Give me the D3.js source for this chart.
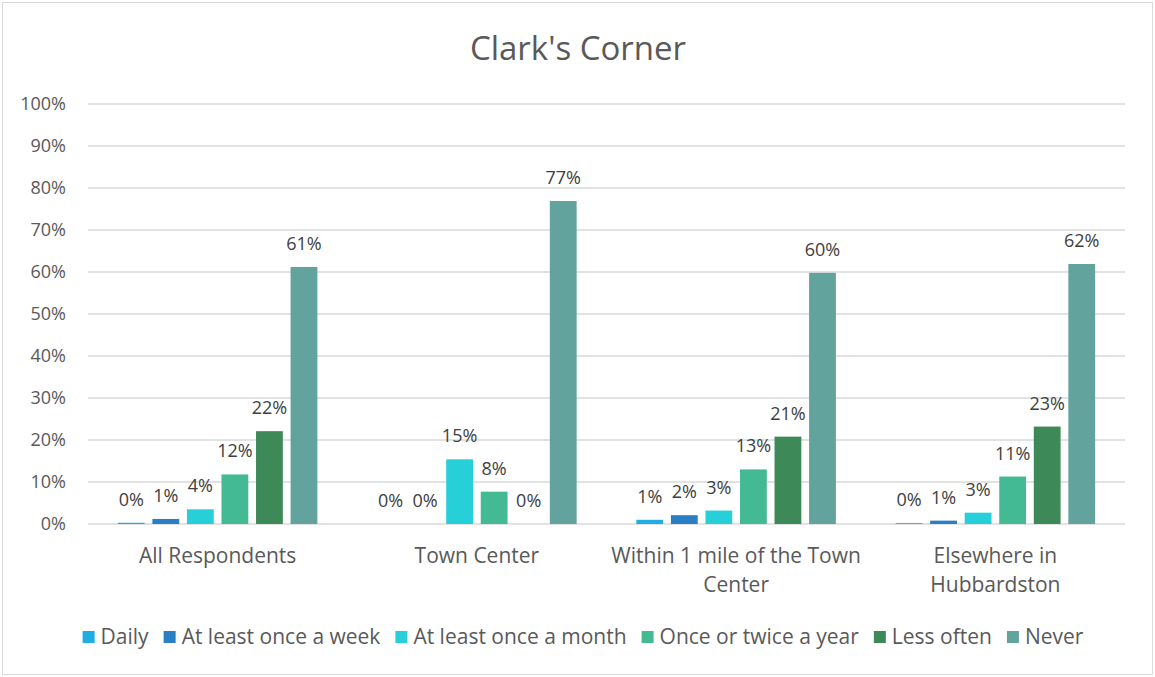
<!DOCTYPE html>
<html>
<head>
<meta charset="utf-8">
<script src="https://cdn.jsdelivr.net/npm/d3@7"></script>
<style>
  body { margin: 0; background: #fff; }
  text { font-family: "Open Sans", sans-serif; }
</style>
</head>
<body>
<div id="chart-area"></div>
<script>
// chart data
var categories = ["All Respondents", "Town Center", "Within 1 mile of the Town\nCenter", "Elsewhere in\nHubbardston"];
var seriesNames = ["Daily", "At least once a week", "At least once a month", "Once or twice a year", "Less often", "Never"];
var seriesColors = ["#20ade3", "#2a7ec3", "#27cfd9", "#43b994", "#3d8957", "#62a39e"];
var daily   = [0.3, 0, 1.0, 0.2];
var weekly  = [1.2, 0, 2.1, 0.8];
var monthly = [3.5, 15.4, 3.2, 2.7];
var yearly  = [11.8, 7.7, 13.0, 11.3];
var lessOften = [22.1, 0, 20.8, 23.2];
var never   = [61.2, 76.9, 59.8, 61.9];
var yTicks = [0, 10, 20, 30, 40, 50, 60, 70, 80, 90, 100];

var seriesValues = [daily, weekly, monthly, yearly, lessOften, never];

var W = 1155, H = 677;
var margin = { left: 88, right: 30, top: 104, bottom: 153 };
var width = W - margin.left - margin.right;
var height = H - margin.top - margin.bottom;

var svg = d3.select("#chart-area").append("svg")
    .attr("width", W)
    .attr("height", H);

// outer frame
svg.append("rect")
    .attr("x", 2.5).attr("y", 2.5)
    .attr("width", 1150).attr("height", 672)
    .attr("fill", "#fff")
    .attr("stroke", "#d9d9d9")
    .attr("stroke-width", 1);

svg.append("text")
    .attr("x", 578)
    .attr("y", 60)
    .attr("text-anchor", "middle")
    .attr("font-size", "33px")
    .attr("fill", "#595959")
    .text("Clark's Corner");

var g = svg.append("g")
    .attr("transform", "translate(" + margin.left + "," + margin.top + ")");

var y = d3.scaleLinear().domain([0, 100]).range([height, 0]);
var x0 = d3.scaleBand().domain(categories).range([0, width]).padding(0);
var x1 = d3.scaleBand().domain(seriesNames)
    .range([26, x0.bandwidth() - 26])
    .paddingInner(0.224)
    .paddingOuter(0.112);
var color = d3.scaleOrdinal().domain(seriesNames).range(seriesColors);

// gridlines
g.selectAll(".grid")
    .data(yTicks)
  .enter().append("line")
    .attr("class", "grid")
    .attr("x1", 0).attr("x2", width)
    .attr("y1", function(d){ return y(d); })
    .attr("y2", function(d){ return y(d); })
    .attr("stroke", "#d9d9d9")
    .attr("stroke-width", 1.3);

// y tick labels
g.selectAll(".ytick")
    .data(yTicks)
  .enter().append("text")
    .attr("class", "ytick")
    .attr("x", -22)
    .attr("y", function(d){ return y(d); })
    .attr("dy", "0.35em")
    .attr("text-anchor", "end")
    .attr("font-size", "18px")
    .attr("fill", "#595959")
    .text(function(d){ return d + "%"; });

// flatten to bar records
var bars = [];
categories.forEach(function(c, i){
    seriesNames.forEach(function(s, j){
        bars.push({ cat: c, series: s, value: seriesValues[j][i] });
    });
});

g.selectAll(".bar")
    .data(bars)
  .enter().append("rect")
    .attr("class", "bar")
    .attr("x", function(d){ return x0(d.cat) + x1(d.series); })
    .attr("y", function(d){ return y(d.value); })
    .attr("width", x1.bandwidth())
    .attr("height", function(d){ return height - y(d.value); })
    .attr("fill", function(d){ return color(d.series); });

g.selectAll(".value")
    .data(bars)
  .enter().append("text")
    .attr("class", "value")
    .attr("x", function(d){ return x0(d.cat) + x1(d.series) + x1.bandwidth() / 2; })
    .attr("y", function(d){ return y(d.value) - 17; })
    .attr("text-anchor", "middle")
    .attr("font-size", "18px")
    .attr("fill", "#404040")
    .text(function(d){ return Math.round(d.value) + "%"; });

// category labels
var catLabels = g.selectAll(".cat")
    .data(categories)
  .enter().append("text")
    .attr("class", "cat")
    .attr("x", function(d){ return x0(d) + x0.bandwidth() / 2; })
    .attr("y", height + 39)
    .attr("text-anchor", "middle")
    .attr("font-size", "21px")
    .attr("fill", "#595959");

catLabels.each(function(d){
    var t = d3.select(this);
    d.split("\n").forEach(function(line, i){
        t.append("tspan")
            .attr("x", x0(d) + x0.bandwidth() / 2)
            .attr("dy", i === 0 ? 0 : 29)
            .text(line);
    });
});

// legend
var legend = svg.append("g").attr("class", "legend");
var lx = 0;
seriesNames.forEach(function(s, i){
    var item = legend.append("g").attr("transform", "translate(" + lx + ",0)");
    item.append("rect")
        .attr("x", 0).attr("y", -6)
        .attr("width", 12).attr("height", 12)
        .attr("fill", seriesColors[i]);
    var t = item.append("text")
        .attr("x", 18)
        .attr("y", 0)
        .attr("dy", "0.35em")
        .attr("font-size", "21px")
        .attr("fill", "#595959")
        .text(s);
    lx += 18 + t.node().getComputedTextLength() + 15;
});
lx -= 15;
legend.attr("transform", "translate(" + (583 - lx / 2) + ",637)");
</script>
</body>
</html>
